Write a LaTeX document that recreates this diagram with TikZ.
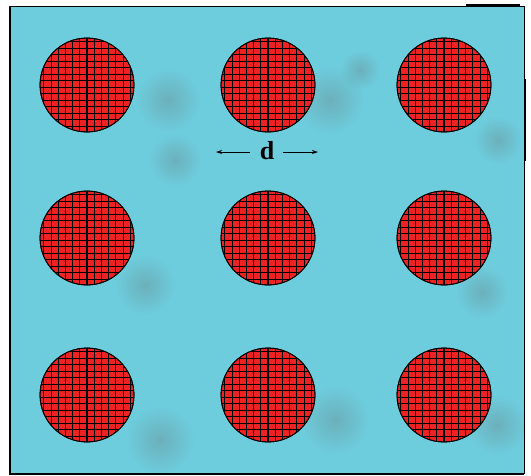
\documentclass[tikz,border=0pt]{standalone}
\usepackage{fontspec}
\setmainfont{Liberation Serif}
\usetikzlibrary{arrows.meta,fadings}
\definecolor{bgcyan}{RGB}{110,205,221}
\definecolor{dotred}{RGB}{238,34,34}
\tikzfading[name=softblob, inner color=transparent!20, outer color=transparent!100]
\tikzset{
  dot/.style={circle,draw=black,line width=0.8pt,fill=dotred,minimum size=94pt,inner sep=0pt},
  gridline/.style={black,line width=1pt},
  shadowblob/.style={fill=black!60,opacity=0.35,path fading=softblob},
  darr/.style={-{Stealth[length=6pt,width=4pt]},line width=0.9pt}
}
\begin{document}
\begin{tikzpicture}[x=1pt,y=-1pt]
\useasboundingbox (0,0) rectangle (531,475);
\fill[bgcyan] (10,6) rectangle (524,474);
% soft shadows
\foreach \x/\y/\r in {168/100/32,330/100/34,145/285/30,482/292/26,335/420/34,160/440/34,497/425/30,498/140/24,360/70/20,175/160/26}
  {\fill[shadowblob] (\x,\y) circle (\r);}
\draw[black,line width=1.2pt] (10,6) -- (10,474) -- (524,474);
\draw[black,line width=0.5pt] (10,6) -- (524,6) -- (524,474);
\draw[black,line width=2pt] (466,5) -- (520,5);
\draw[black,line width=2.2pt] (525,79) -- (525,161);
% dots
\foreach \i/\x in {1/87,2/268,3/444}{
  \foreach \j/\y in {1/85,2/238,3/395}{
    \node[dot] (c\i\j) at (\x,\y) {};
    \begin{scope}
      \clip (\x,\y) circle (47);
      \foreach \k in {-7,...,7}{
        \draw[gridline] (\x+\k*7.2,\y-48) -- (\x+\k*7.2,\y+48);
        \draw[gridline] (\x-48,\y+\k*6.5+2) -- (\x+48,\y+\k*6.5+2);
      }
      \draw[black,line width=1.8pt] (\x,\y-48) -- (\x,\y+48);
    \end{scope}
    \draw[black,line width=0.8pt] (\x,\y) circle (47);
  }
}
\node[font=\fontsize{26}{26}\selectfont\bfseries,inner sep=1pt] (d) at (267,151) {d};
\coordinate (dl) at (216,152);
\coordinate (dr) at (318,152);
\draw[darr] ([xshift=-9pt]d.west |- dl) -- (dl);
\draw[darr] ([xshift=8pt]d.east |- dr) -- (dr);
\end{tikzpicture}
\end{document}
